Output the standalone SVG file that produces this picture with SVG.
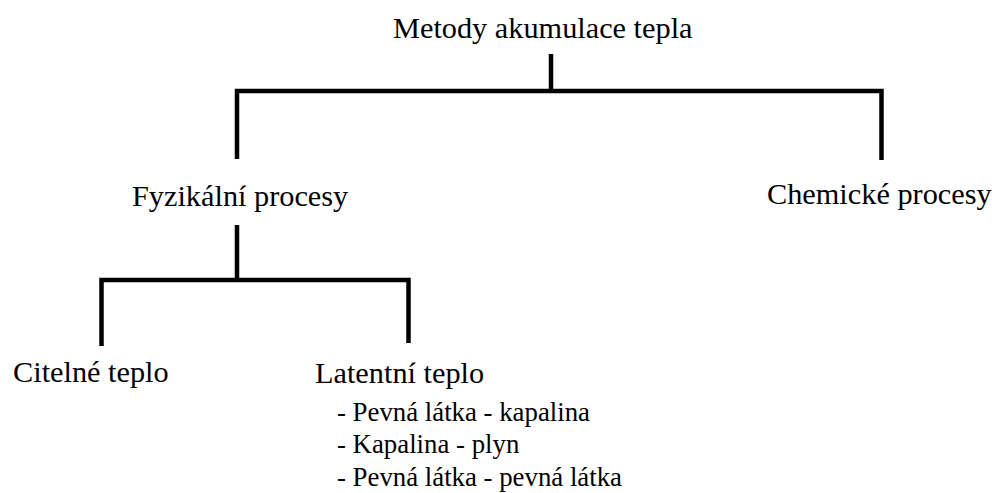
<svg xmlns="http://www.w3.org/2000/svg" width="992" height="493" viewBox="0 0 992 493">
<style>
text{font-family:"Liberation Serif","Times New Roman",serif;fill:#000}
.n{font-size:30.3px}
.s{font-size:26.8px}
.c{fill:none;stroke:#000;stroke-width:4.5;stroke-linejoin:miter;stroke-linecap:butt}
</style>
<rect width="992" height="493" fill="#fff"/>
<g id="connectors">
<path class="c" d="M551,54 V91"/>
<path class="c" d="M237,159 V91 H881.5 V160"/>
<path class="c" d="M237,225 V280"/>
<path class="c" d="M101.5,346 V280 H408.5 V343"/>
</g>
<g id="root"><text class="n" x="393" y="38">Metody akumulace tepla</text></g>
<g id="fyzikalni"><text class="n" x="132" y="206">Fyzikální procesy</text></g>
<g id="chemicke"><text class="n" x="767" y="204">Chemické procesy</text></g>
<g id="citelne"><text class="n" x="13" y="382">Citelné teplo</text></g>
<g id="latentni"><text class="n" x="315" y="383">Latentní teplo</text>
<text class="s" x="337" y="421">- Pevná látka - kapalina</text>
<text class="s" x="337" y="453">- Kapalina - plyn</text>
<text class="s" x="337" y="486">- Pevná látka - pevná látka</text>
</g>
</svg>
